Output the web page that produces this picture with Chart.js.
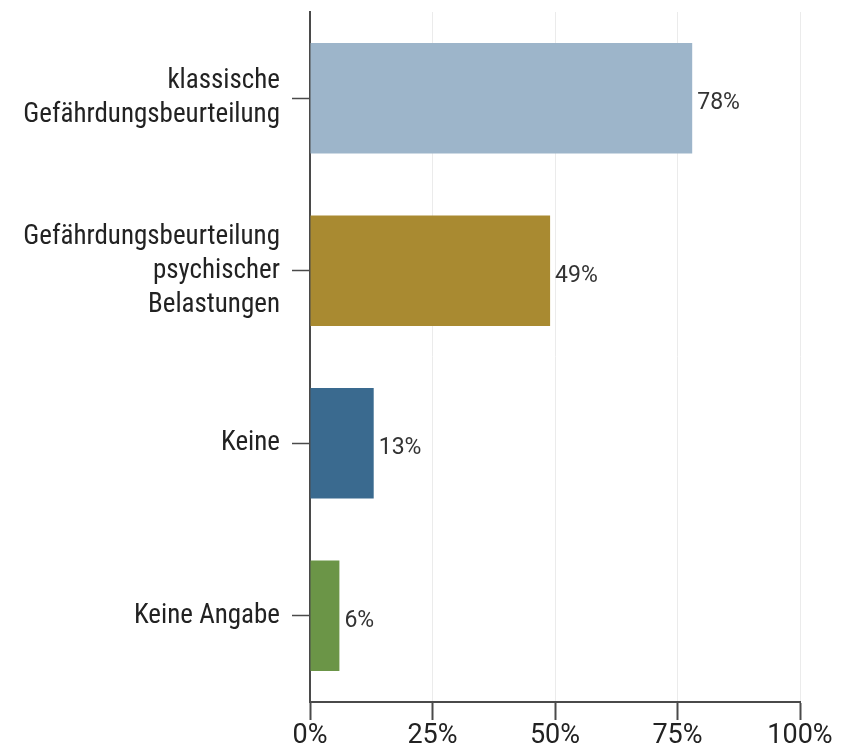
<!DOCTYPE html>
<html>
<head>
<meta charset="utf-8">
<script src="https://cdn.jsdelivr.net/npm/chart.js@4/dist/chart.umd.min.js"></script>
<style>
  html, body { margin: 0; padding: 0; background: #ffffff; }
  #wrap { width: 849px; height: 748px; }
</style>
</head>
<body>
<div id="wrap"><canvas id="c" width="849" height="748"></canvas></div>
<script>
const categories = [
  ["klassische", "Gefährdungsbeurteilung"],
  ["Gefährdungsbeurteilung", "psychischer", "Belastungen"],
  "Keine",
  "Keine Angabe"
];
const values = [78, 49, 13, 6];
const barColors = ["#9db5ca", "#a98a31", "#3a6a8f", "#6b9547"];
const xTicks = [0, 25, 50, 75, 100];

const NARROW = "'Liberation Sans Narrow', 'Roboto Condensed', Roboto, sans-serif";
const WIDE = "Roboto, 'Liberation Sans', sans-serif";

const valueLabels = {
  id: 'valueLabels',
  afterDatasetsDraw(chart) {
    const ctx = chart.ctx;
    const meta = chart.getDatasetMeta(0);
    ctx.save();
    ctx.font = "23px " + WIDE;
    ctx.fillStyle = "#333333";
    ctx.textAlign = "left";
    ctx.textBaseline = "middle";
    meta.data.forEach((bar, i) => {
      ctx.fillText(values[i] + "%", bar.x + 5, bar.y + 5);
    });
    ctx.restore();
  }
};

new Chart(document.getElementById('c'), {
  type: 'bar',
  data: {
    labels: categories,
    datasets: [{
      data: values,
      backgroundColor: barColors,
      borderWidth: 0,
      barPercentage: 1,
      categoryPercentage: 0.64
    }]
  },
  options: {
    indexAxis: 'y',
    responsive: false,
    animation: false,
    layout: { padding: { top: 12, right: 49, left: 0, bottom: 0 } },
    plugins: {
      legend: { display: false },
      tooltip: { enabled: false }
    },
    scales: {
      x: {
        min: 0,
        max: 100,
        afterBuildTicks(scale) {
          scale.ticks = xTicks.map(v => ({ value: v }));
        },
        afterFit(scale) { scale.height = 46; },
        border: { display: true, color: "#4a4a4a", width: 2 },
        grid: {
          display: true,
          color: "#ebebeb",
          lineWidth: 1,
          drawTicks: true,
          tickLength: 18,
          tickColor: "#4a4a4a",
          tickWidth: 2
        },
        ticks: {
          callback: v => v + "%",
          color: "#222222",
          font: { family: WIDE, size: 27 },
          padding: 0,
          maxRotation: 0
        }
      },
      y: {
        afterFit(scale) {
          scale.width = 310;
          scale.paddingTop = 0;
          scale.paddingBottom = 0;
        },
        border: { display: true, color: "#4a4a4a", width: 2 },
        grid: {
          display: true,
          offset: false,
          drawOnChartArea: false,
          drawTicks: true,
          tickLength: 18,
          tickColor: "#4a4a4a",
          tickWidth: 1.5
        },
        ticks: {
          color: "#222222",
          font: { family: NARROW, size: 27, lineHeight: '34px' },
          padding: 12
        }
      }
    }
  },
  plugins: [valueLabels]
});
</script>
</body>
</html>
